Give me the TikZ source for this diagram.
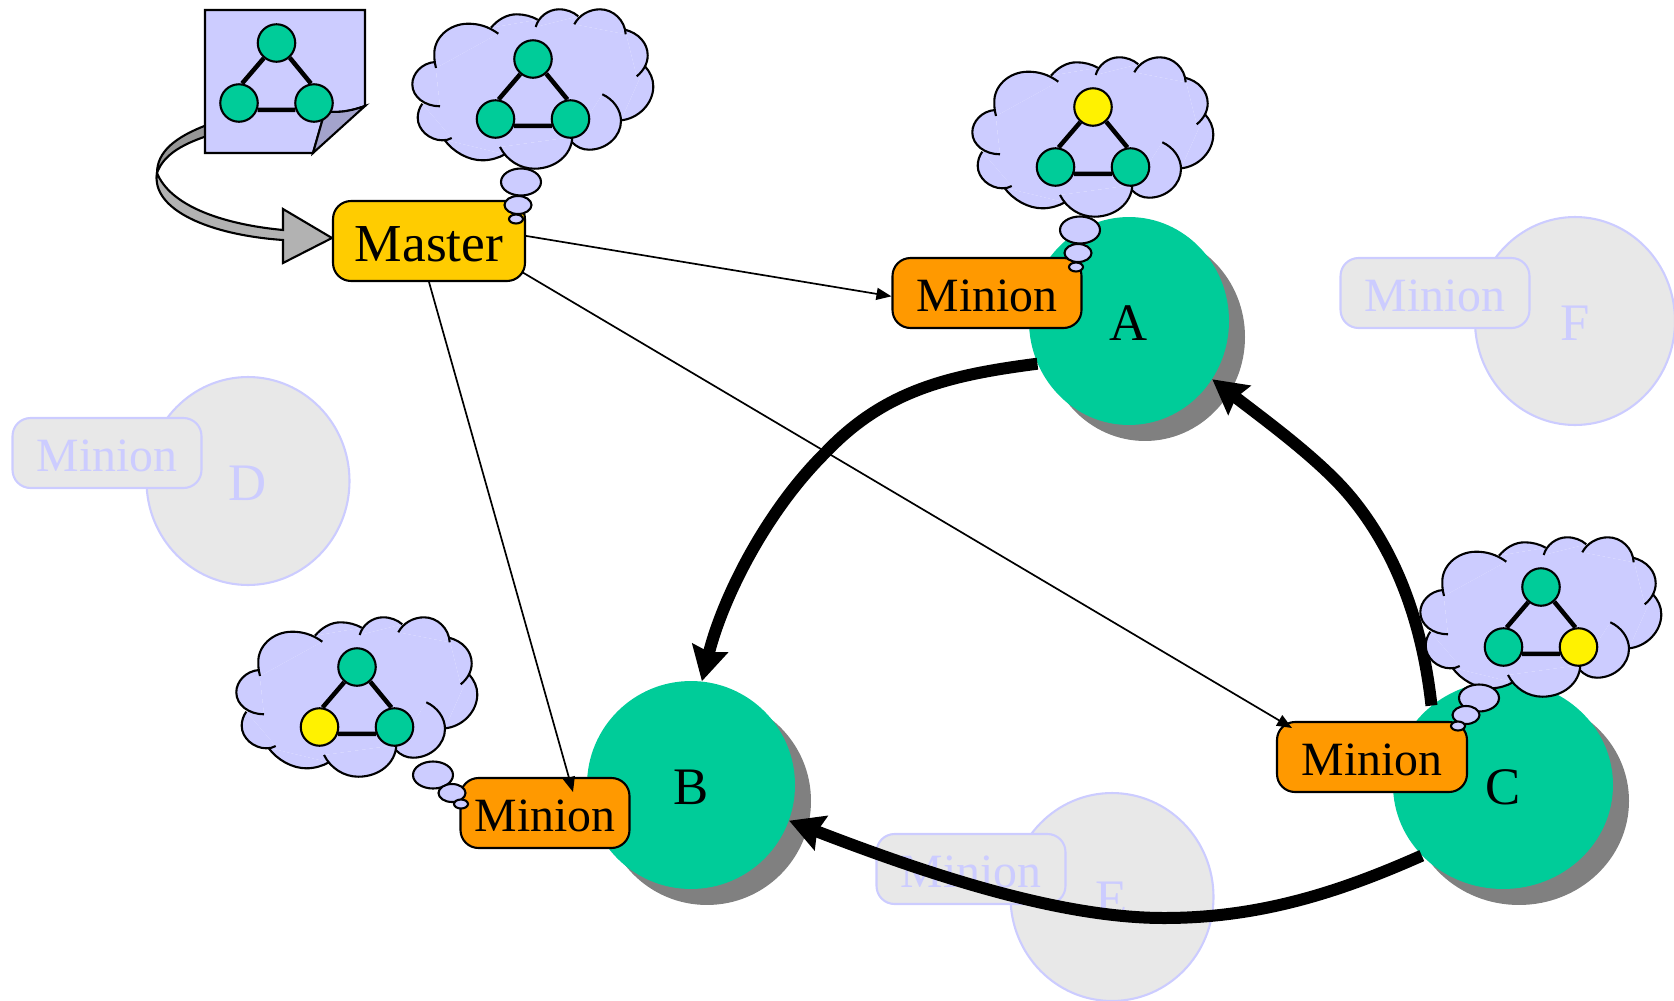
\documentclass[tikz,border=0pt]{standalone}
\usepackage{fontspec}
\setmainfont{Liberation Serif}
\usepackage{tikz}
\usetikzlibrary{arrows.meta,shapes.geometric,shadows}
\definecolor{nodegreen}{RGB}{0,204,153}
\definecolor{mastergold}{RGB}{255,204,0}
\definecolor{minionorange}{RGB}{255,153,0}
\definecolor{cloudblue}{RGB}{204,204,255}
\definecolor{foldblue}{RGB}{163,163,204}
\definecolor{ghostgrey}{RGB}{232,232,232}
\definecolor{ribbonlight}{RGB}{178,178,178}
\definecolor{ribbondark}{RGB}{150,150,150}
\tikzstyle{outline} = [draw=black,line width=0.042cm]
\tikzstyle{livenode} = [ellipse,inner sep=0,fill=nodegreen,font=\fontsize{30}{30}\selectfont,text height=22pt,text depth=0pt,
    drop shadow={shadow xshift=0.32cm,shadow yshift=-0.32cm,opacity=1,fill=gray}]
\tikzstyle{ghostnode} = [ellipse,inner sep=0,fill=ghostgrey,draw=cloudblue,line width=0.042cm,
    text=cloudblue,font=\fontsize{30}{30}\selectfont,text height=22pt,text depth=0pt]
\tikzstyle{minionbox} = [outline,rectangle,rounded corners=0.36cm,inner sep=0,fill=minionorange,
    font=\fontsize{27.2}{27.2}\selectfont,text height=21.5pt,text depth=0pt]
\tikzstyle{ghostbox} = [minionbox,fill=ghostgrey,draw=cloudblue,text=cloudblue]
\tikzstyle{masterbox} = [minionbox,fill=mastergold,font=\fontsize{30.4}{30.4}\selectfont,text height=23.5pt]
\tikzstyle{triad} = [outline,circle,inner sep=0,minimum size=0.75cm]
\tikzstyle{bubble} = [outline,ellipse,inner sep=0,fill=cloudblue]
\tikzstyle{order} = [line width=0.24cm,-{Stealth[length=0.68cm,width=0.72cm,inset=0.08cm]}]
\tikzstyle{command} = [line width=0.034cm,-{Stealth[length=0.3cm,width=0.24cm,inset=0cm]}]
% Bumps of the cloud outline
\def\cloudA{(-34.7,-25.3) .. controls (-44.7,-32.7) and (-54.7,-35.3) .. (-64.7,-35.3) .. controls (-84.7,-35.3) and (-99.7,-20.3) .. (-98.7,-3.7) .. controls (-98.7,1.3) and (-98,4.7) .. (-97,9)}
\def\cloudB{(-98,3) .. controls (-111.3,4) and (-120.7,14.7) .. (-120.7,25.3) .. controls (-120.7,38) and (-108,47.3) .. (-93,47.3)}
\def\cloudC{(-110.7,44.7) .. controls (-113.7,48.7) and (-115.3,54) .. (-115.3,58.7) .. controls (-115.3,71.3) and (-103,81.3) .. (-90.7,81.3) .. controls (-87.3,81.3) and (-84,80.7) .. (-81.3,79)}
\def\cloudD{(-88.7,80.7) .. controls (-79.7,93) and (-64.7,101.3) .. (-50.7,101.3) .. controls (-42.3,101.3) and (-34.7,99) .. (-28,95.3)}
\def\cloudE{(-33,88) .. controls (-26.3,101.3) and (-13,109.7) .. (1.3,109.7) .. controls (22,109.7) and (38.7,96.3) .. (39.3,78)}
\def\cloudF{(38.7,83) .. controls (43.7,88) and (49.3,90.7) .. (56,90.7) .. controls (73.7,90.7) and (88,77.3) .. (88,62) .. controls (88,50.7) and (80.3,40.3) .. (69.3,35.3)}
\def\cloudG{(88,61.3) .. controls (105.3,59.7) and (120.3,44.7) .. (120.3,27.3) .. controls (120.3,19.7) and (117,13) .. (112,7.3)}
\def\cloudH{(103.7,17.3) .. controls (110.3,12) and (114.7,4.7) .. (114.7,-3.7) .. controls (114.7,-16) and (105.3,-26) .. (92,-29.3)}
\def\cloudI{(92.7,-24.7) .. controls (92,-38.7) and (80.3,-49.7) .. (67,-49.7) .. controls (56,-49.7) and (46,-43.7) .. (41.3,-34.7)}
\def\cloudJ{(45.3,-42.7) .. controls (40.3,-47) and (33.7,-49.7) .. (26,-49.7) .. controls (15.3,-49.7) and (5.3,-42) .. (2.7,-32)}
\def\cloudK{(4.7,-39.3) .. controls (-1.3,-42.7) and (-8.7,-44.7) .. (-16.3,-44.7) .. controls (-26.3,-44.7) and (-35.3,-39.3) .. (-42,-31.3)}
% Three replicas and their links
\newcommand{\replicas}[6]{
    \node[triad,fill=#4] (#1top) at (#2,#3) {};
    \node[triad,fill=#5] (#1left) at (#2-37.5,#3+60) {};
    \node[triad,fill=#6] (#1right) at (#2+37.5,#3+60) {};
    \draw[line width=0.09cm] (#1top.230) -- (#1left.81) (#1left.-20) -- (#1right.200) (#1right.99) -- (#1top.-48);
}
\newcommand{\thought}[6]{
    \begin{scope}[shift={(#2,#3)}]
        \fill[cloudblue] (-34.7,-25.3) -- (-97,9) -- (-98,3) -- (-93,47.3) -- (-110.7,44.7) -- (-81.3,79) -- (-88.7,80.7)
            -- (-28,95.3) -- (-33,88) -- (39.3,78) -- (38.7,83) -- (69.3,35.3) -- (88,61.3) -- (112,7.3) -- (103.7,17.3)
            -- (92,-29.3) -- (92.7,-24.7) -- (41.3,-34.7) -- (45.3,-42.7) -- (2.7,-32) -- (4.7,-39.3) -- (-42,-31.3) -- cycle;
        \foreach \bump in {\cloudA,\cloudB,\cloudC,\cloudD,\cloudE,\cloudF,\cloudG,\cloudH,\cloudI,\cloudJ,\cloudK}
            \fill[cloudblue] \bump;
        \foreach \bump in {\cloudA,\cloudB,\cloudC,\cloudD,\cloudE,\cloudF,\cloudG,\cloudH,\cloudI,\cloudJ,\cloudK}
            \draw[line width=0.042cm] \bump;
    \end{scope}
    \replicas{#1}{#2}{#3}{#4}{#5}{#6}
}

\begin{document}
\begin{tikzpicture}[x=0.02cm,y=-0.02cm]
    \useasboundingbox (0,0) rectangle (1674,1001);

    % Ribbon from the document to the master
    \fill[ribbondark,draw=black,line width=0.042cm] (207,125) .. controls (175,137) and (157,152) .. (157,173)
        .. controls (163,156) and (180,145) .. (207,136) -- cycle;
    \fill[ribbonlight,draw=black,line width=0.042cm] (157,173) .. controls (170,205) and (220,224) .. (283,230)
        -- (283,209) -- (332,238) -- (283,263) -- (283,240)
        .. controls (210,235) and (151,210) .. (157,173) -- cycle;

    % Document
    \fill[cloudblue,draw=black,line width=0.042cm] (205,10) -- (365,10) -- (365,106)
        .. controls (348,112) and (336,113) .. (325,111) -- (313,153) -- (205,153) -- cycle;
    \fill[foldblue,draw=black,line width=0.042cm] (365,106) .. controls (348,112) and (336,113) .. (325,111)
        -- (313,153) -- cycle;
    \replicas{doc}{276.5}{43}{nodegreen}{nodegreen}{nodegreen}

    % Faded machines
    \foreach \nm/\x/\y/\bw/\lbl in {d/248/481/203/D, e/1112/897/203/E, f/1575/321/200/F}
        \node[ghostnode,minimum width=\bw*0.02cm,minimum height=4.16cm] (node\nm) at (\x,\y) {\lbl};
    \foreach \nm/\x/\y in {d/107/453, e/971/869, f/1435/293}
        \node[ghostbox,minimum width=3.78cm,minimum height=1.4cm] (minion\nm) at (\x,\y) {Minion};

    % Machines
    \foreach \nm/\x/\y/\bw/\lbl in {a/1129/321/200/A, b/691/785/208/B, c/1503/785/220/C}
        \node[livenode,minimum width=\bw*0.02cm,minimum height=4.16cm] (node\nm) at (\x,\y) {\lbl};
    \foreach \nm/\x/\y/\bw in {a/987/293/189, b/545/813/169, c/1372/757/190}
        \node[minionbox,minimum width=\bw*0.02cm,minimum height=1.4cm] (minion\nm) at (\x,\y) {Minion};
    \node[masterbox,minimum width=3.84cm,minimum height=1.6cm] (master) at (429,241) {Master};

    % Master to minions
    \coordinate (tipb) at (573,792);
    \coordinate (tipc) at (1292,728);
    \draw[command] (master.3) -- (miniona.182);
    \draw[command,shorten <=-0.1cm] (master.-19) -- (tipc);
    \draw[command] (master.south) -- (tipb);

    % Ring
    \draw[order] (nodea.205) .. controls (950,375) and (885,390) .. (826,452)
        .. controls (765,512) and (722,600) .. (nodeb.84);
    \draw[order] (nodec.132) .. controls (1422,620) and (1395,550) .. (1350,496)
        .. controls (1320,460) and (1265,420) .. (nodea.-35);
    \draw[order] (nodec.221) .. controls (1340,892) and (1260,918) .. (1164,918)
        .. controls (1060,918) and (930,875) .. (nodeb.-20);

    % Thoughts
    \thought{ma}{533}{59}{nodegreen}{nodegreen}{nodegreen}
    \thought{th}{1093}{107}{yellow}{nodegreen}{nodegreen}
    \thought{tb}{357}{667}{nodegreen}{yellow}{nodegreen}
    \thought{tc}{1541}{587}{nodegreen}{nodegreen}{yellow}
    \foreach \nm/\x/\y/\bw/\bh in {m1/521/182/40/27, m2/518/205/27/18, m3/516/219/14/9,
        a1/1080/230/40/27, a2/1078/253/27/18, a3/1076/267/14/9,
        b1/433/775/40/27, b2/452/793/27/18, b3/461/804/14/9,
        c1/1479/698/40/27, c2/1466/715/27/18, c3/1458/726/14/9}
        \node[bubble,minimum width=\bw*0.02cm,minimum height=\bh*0.02cm] (bubble\nm) at (\x,\y) {};
\end{tikzpicture}
\end{document}
